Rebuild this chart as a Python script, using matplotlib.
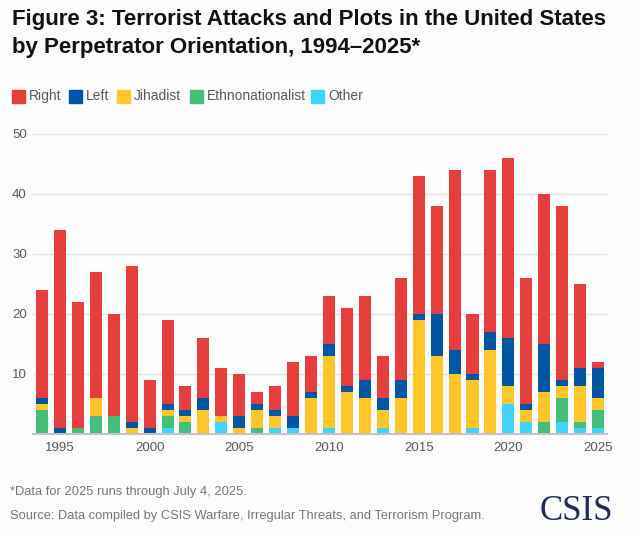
import matplotlib
matplotlib.use("Agg")
import matplotlib.pyplot as plt
import numpy as np
from matplotlib.patches import Rectangle

years = list(range(1994, 2026))
other = [0, 0, 0, 0, 0, 0, 0, 1, 0, 0, 2, 0, 0, 1, 1, 0, 1, 0, 0, 1, 0, 0, 0, 0, 1, 0, 5, 2, 0, 2, 1, 1]
ethno = [4, 0, 1, 3, 3, 0, 0, 2, 2, 0, 0, 0, 1, 0, 0, 0, 0, 0, 0, 0, 0, 0, 0, 0, 0, 0, 0, 0, 2, 4, 1, 3]
jihadist = [1, 0, 0, 3, 0, 1, 0, 1, 1, 4, 1, 1, 3, 2, 0, 6, 12, 7, 6, 3, 6, 19, 13, 10, 8, 14, 3, 2, 5, 2, 6, 2]
left = [1, 1, 0, 0, 0, 1, 1, 1, 1, 2, 0, 2, 1, 1, 2, 1, 2, 1, 3, 2, 3, 1, 7, 4, 1, 3, 8, 1, 8, 1, 3, 5]
right = [18, 33, 21, 21, 17, 26, 8, 14, 4, 10, 8, 7, 2, 4, 9, 6, 8, 13, 14, 7, 17, 23, 18, 30, 10, 27, 30, 21, 25, 29, 14, 1]

series_names = ["Right", "Left", "Jihadist", "Ethnonationalist", "Other"]
colors = {"Right": "#E53E3C", "Left": "#0055A4", "Jihadist": "#FFC629",
          "Ethnonationalist": "#44BF7A", "Other": "#40D3FD"}
xtick_labels = ["1995", "2000", "2005", "2010", "2015", "2020", "2025"]
yticks = [10, 20, 30, 40, 50]

BG = "#FCFCFC"
TXT = "#5A5A5A"
plt.rcParams['font.family'] = ['Liberation Sans', 'DejaVu Sans']

fig = plt.figure(figsize=(6.39, 5.34), dpi=100, facecolor=BG)
ax = fig.add_axes([0.0516, 0.1873, 0.8984, 0.5618], facecolor=BG)

x = np.array(years)
stack = [("Other", other), ("Ethnonationalist", ethno), ("Jihadist", jihadist),
         ("Left", left), ("Right", right)]
bottom = np.zeros(len(years))
for name, vals in stack:
    v = np.array(vals, dtype=float)
    ax.bar(x, v, bottom=bottom, width=0.67, color=colors[name], linewidth=0, zorder=3)
    bottom += v

ax.set_xlim(1993.5, 2025.5)
ax.set_ylim(0, 50)
ax.set_yticks(yticks)
ax.set_yticklabels([str(t) for t in yticks])
ax.set_xticks([int(t) for t in xtick_labels])
ax.set_xticklabels(xtick_labels)
ax.tick_params(axis='both', length=0, labelsize=9.5, labelcolor=TXT)
ax.tick_params(axis='y', pad=4.5)
ax.tick_params(axis='x', pad=6)
ax.grid(axis='y', color="#E3E3E3", linewidth=1.0, zorder=0)
for s in ["top", "right", "left"]:
    ax.spines[s].set_visible(False)
ax.spines["bottom"].set_color("#C4C4C4")
ax.spines["bottom"].set_linewidth(1.5)
ax.spines["bottom"].set_zorder(4)

# Title
fig.text(12 / 639, 1 - 20 / 534, "Figure 3: Terrorist Attacks and Plots in the United States",
         fontsize=16, fontweight='bold', color="#111111", va='center', ha='left')
fig.text(12 / 639, 1 - 48 / 534, "by Perpetrator Orientation, 1994\u20132025*",
         fontsize=16, fontweight='bold', color="#111111", va='center', ha='left')

# Legend
leg_x = [12, 69, 117, 190, 311]
for name, lx in zip(series_names, leg_x):
    fig.patches.append(Rectangle((lx / 639, 1 - 103 / 534), 13 / 639, 13 / 534,
                                 transform=fig.transFigure, color=colors[name]))
    fig.text((lx + 17) / 639, 1 - 96.5 / 534, name, fontsize=10, color=TXT,
             va='center', ha='left')

# Footnotes
fig.text(10 / 639, 1 - 492 / 534, "*Data for 2025 runs through July 4, 2025.",
         fontsize=9.25, color="#777777", va='center', ha='left')
fig.text(10 / 639, 1 - 516 / 534,
         "Source: Data compiled by CSIS Warfare, Irregular Threats, and Terrorism Program.",
         fontsize=9.25, color="#777777", va='center', ha='left')
fig.text(613 / 639, 1 - 511 / 534, "CSIS", fontsize=25, color="#1B2D5B",
         va='center', ha='right', family=['Liberation Serif', 'DejaVu Serif'])

fig.savefig("out.png", dpi=100, facecolor=BG)
